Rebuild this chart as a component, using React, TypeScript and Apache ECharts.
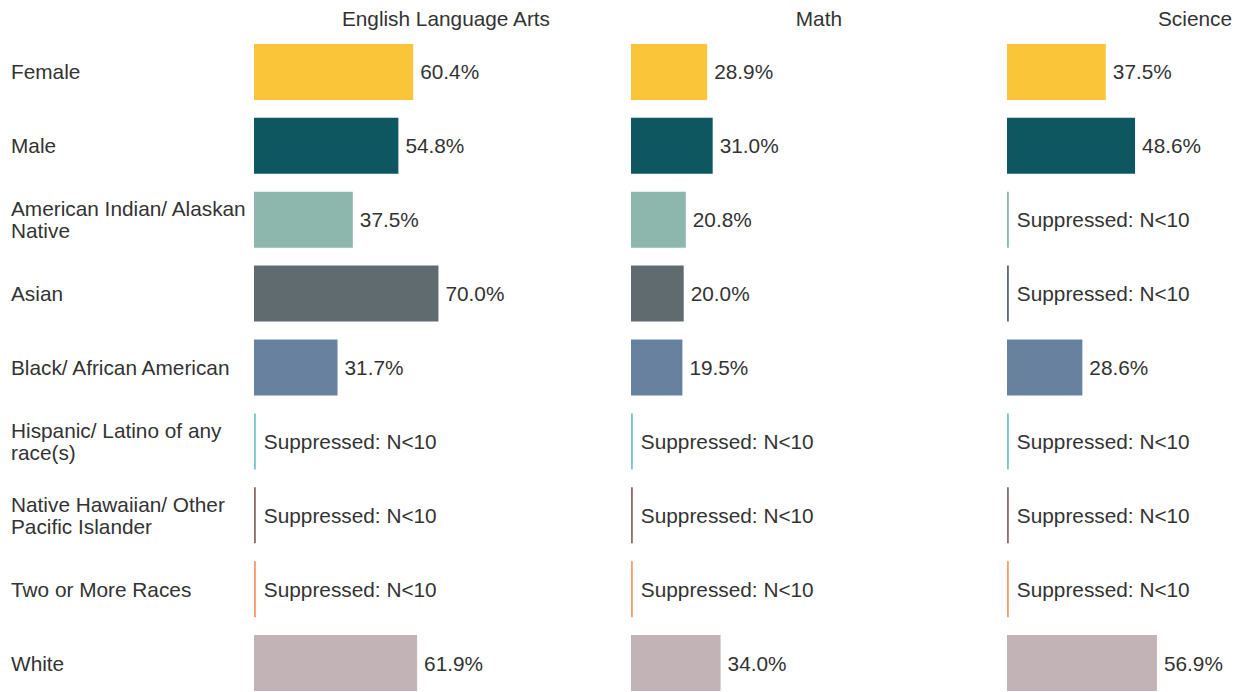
import React, { useEffect, useRef } from "react";
import * as echarts from "echarts";

const categories = [
  "Female",
  "Male",
  "American Indian/ Alaskan\nNative",
  "Asian",
  "Black/ African American",
  "Hispanic/ Latino of any\nrace(s)",
  "Native Hawaiian/ Other\nPacific Islander",
  "Two or More Races",
  "White",
];
const colors = [
  "#FBC539",
  "#0F5760",
  "#8DB7AC",
  "#606B70",
  "#67819E",
  "#7CC3CE",
  "#8B6F6B",
  "#F79A70",
  "#C2B3B6",
];
const subjects = ["English Language Arts", "Math", "Science"];
const ela = [60.4, 54.8, 37.5, 70.0, 31.7, null, null, null, 61.9];
const math = [28.9, 31.0, 20.8, 20.0, 19.5, null, null, null, 34.0];
const science = [37.5, 48.6, null, null, 28.6, null, null, null, 56.9];
const suppressedText = "Suppressed: N<10";

const FONT = "'Liberation Sans', Arial, sans-serif";
const FS = 20.8;

export default function App() {
  const ref = useRef<HTMLDivElement>(null);
  useEffect(() => {
    if (!ref.current) return;
    const chart = echarts.init(ref.current, null, { renderer: "svg" });
    const lefts = [254, 631, 1007];
    const titleRights = [545, 837, 1227];
    const all = [ela, math, science];
    const grids = lefts.map((l) => ({ left: l, top: 35, width: 263.5, height: 665 }));
    const xAxes = lefts.map((_, i) => ({
      type: "value",
      gridIndex: i,
      min: 0,
      max: 100,
      show: false,
    }));
    const yAxes = lefts.map((_, i) => ({
      type: "category",
      gridIndex: i,
      data: categories,
      inverse: true,
      axisLine: { show: false },
      axisTick: { show: false },
      splitLine: { show: false },
      axisLabel: {
        show: i === 0,
        align: "left",
        margin: 243,
        color: "#333",
        fontSize: FS,
        fontFamily: FONT,
        lineHeight: 22,
      },
    }));
    const series = all.map((vals, i) => ({
      type: "bar",
      xAxisIndex: i,
      yAxisIndex: i,
      barWidth: 56,
      data: vals.map((v, j) => {
        const sup = v === null;
        return {
          value: sup ? 0.7 : v,
          itemStyle: { color: colors[j] },
          label: {
            show: true,
            position: "right",
            distance: sup ? 8 : 7,
            formatter: sup ? suppressedText : `${(v as number).toFixed(1)}%`,
            color: "#333",
            fontSize: FS,
            fontFamily: FONT,
          },
        };
      }),
    }));
    chart.setOption({
      animation: false,
      backgroundColor: "#fff",
      title: subjects.map((s, i) => ({
        text: s,
        left: titleRights[i],
        top: 3,
        textAlign: "right",
        textStyle: { color: "#333", fontSize: FS, fontWeight: "normal", fontFamily: FONT },
      })),
      grid: grids,
      xAxis: xAxes,
      yAxis: yAxes,
      series,
    });
    return () => chart.dispose();
  }, []);
  return (
    <div
      style={{
        position: "fixed",
        left: 0,
        top: 0,
        width: 1244,
        height: 692,
        overflow: "hidden",
        background: "#fff",
      }}
    >
      <div ref={ref} style={{ width: 1400, height: 720 }} />
    </div>
  );
}
